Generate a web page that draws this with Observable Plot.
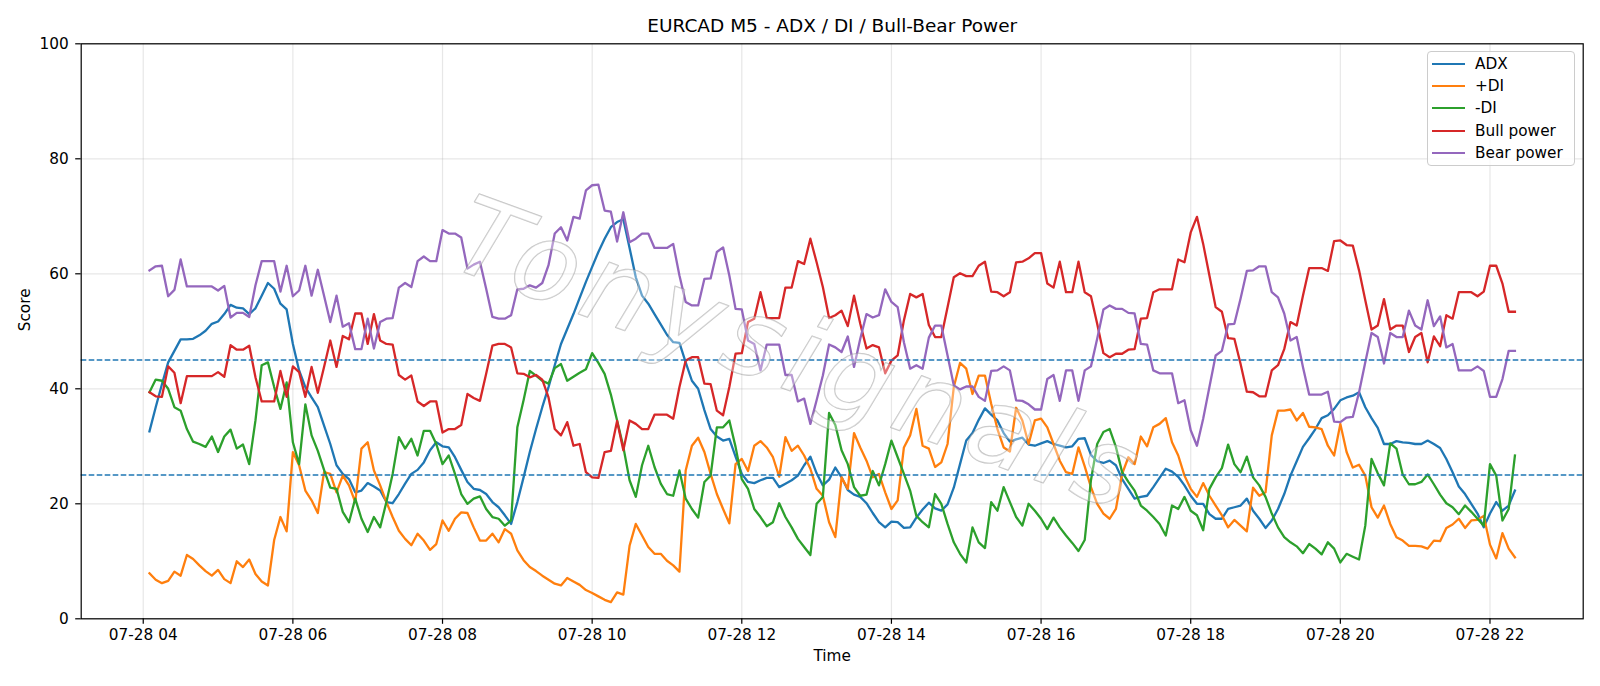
<!DOCTYPE html>
<html>
<head>
<meta charset="utf-8">
<script src="https://cdn.jsdelivr.net/npm/d3@7"></script>
<script src="https://cdn.jsdelivr.net/npm/@observablehq/plot@0.6"></script>
<style>
  html, body { margin: 0; padding: 0; background: #fff; }
  #chart { position: relative; width: 1600px; height: 686px; font-family: "DejaVu Sans", sans-serif; }
  #chart svg g.watermark text { letter-spacing: 9px; }
  .legend { position: absolute; left: 1427px; top: 51px; width: 148px; height: 115px; box-sizing: border-box;
            border: 1px solid #cccccc; border-radius: 4px; background: rgba(255,255,255,0.8); padding-top: 1px; }
  .legend .row { height: 22.2px; display: flex; align-items: center; font-size: 15.3px; color: #000; white-space: nowrap; }
  .legend .sw { width: 33px; height: 0; border-top: 2.3px solid; margin-left: 4px; margin-right: 10px; }
</style>
</head>
<body>
<div id="chart"></div>
<script>
// EURCAD M5 indicator readings, one value per 5-minute bar from 07-28 04:05 to 22:20
const startTime = Date.UTC(2025, 6, 28, 4, 5);
const stepMinutes = 5;

const seriesNames = ["ADX", "+DI", "-DI", "Bull power", "Bear power"];
const seriesColors = ["#1f77b4", "#ff7f0e", "#2ca02c", "#d62728", "#9467bd"];
const thresholdLevels = [25, 45];
const yTickValues = [0, 20, 40, 60, 80, 100];

const adx = [
  32.6, 36.8, 40.8, 44.6, 46.6, 48.6, 48.6, 48.7, 49.3, 50.1, 51.3, 51.7, 53.0, 54.6, 54.1, 54.0, 53.0, 54.0, 56.2, 58.4,
  57.4, 54.8, 53.8, 47.8, 43.2, 40.3, 38.5, 36.8, 33.6, 30.4, 26.7, 25.2, 24.3, 22.0, 22.3, 23.6, 23.0, 22.3,
  20.3, 20.1, 21.7, 23.5, 25.2, 25.9, 27.2, 29.3, 30.7, 30.0, 29.8, 28.1, 25.9, 23.8, 22.6, 22.4, 21.7, 20.3, 19.4, 18.0,
  16.5, 20.3, 24.6, 29.0, 33.0, 36.8, 40.3, 44.1, 47.8, 50.4, 53.0, 55.8, 58.6, 61.2, 63.8, 66.1, 68.1, 69.0,
  69.5, 64.5, 59.4, 56.2, 54.8, 53.0, 51.2, 49.4, 48.1, 48.0, 44.6, 41.4, 40.0, 36.3, 33.0, 31.7, 31.0, 31.3, 28.2, 25.2,
  23.8, 23.6, 24.1, 24.5, 24.5, 22.9, 23.5, 24.1, 24.9, 26.7, 28.2, 25.3, 23.2, 24.2, 26.3, 24.6, 22.4, 21.6, 21.2,
  20.1, 18.4, 16.8, 15.9, 16.9, 16.8, 15.8, 15.9, 17.6, 19.0, 20.2, 19.2, 18.8, 19.9, 22.8, 26.9, 31.0, 32.3, 34.6, 36.6,
  35.5, 34.5, 32.3, 30.8, 31.2, 31.5, 30.3, 30.1, 30.5, 30.9, 30.4, 30.1, 29.8, 30.0, 31.3, 31.4, 28.5, 27.4,
  27.1, 27.5, 26.7, 24.3, 22.6, 20.9, 21.2, 21.4, 22.9, 24.5, 26.1, 25.6, 24.7, 23.2, 21.4, 20.0, 20.0, 18.2, 17.4, 17.4,
  19.1, 19.4, 19.7, 20.9, 18.8, 17.4, 15.8, 17.1, 19.1, 21.7, 24.9, 27.4, 29.9, 31.4, 33.0, 34.9, 35.4, 36.5,
  38.0, 38.5, 38.8, 39.4, 36.8, 34.9, 33.2, 30.4, 30.4, 30.9, 30.7, 30.6, 30.4, 30.4, 31.0, 30.4, 29.7, 27.8, 25.5, 23.0,
  21.7, 20.0, 18.3, 15.9, 18.3, 20.3, 18.8, 19.7, 22.3
];

const plusDI = [
  7.9, 6.8, 6.2, 6.6, 8.2, 7.5, 11.1, 10.4, 9.3, 8.3, 7.5, 8.5, 6.9, 6.2, 10.0, 9.0, 10.3, 7.8, 6.5, 5.8,
  13.7, 17.7, 15.2, 29.0, 26.7, 22.3, 20.6, 18.4, 25.5, 25.2, 22.0, 24.9, 23.2, 20.3, 29.6, 30.7, 25.8, 23.2,
  20.3, 17.7, 15.3, 13.9, 12.8, 14.8, 13.6, 12.0, 13.0, 17.1, 15.3, 17.4, 18.5, 18.4, 15.9, 13.6, 13.6, 14.8, 13.3, 15.6,
  14.8, 11.9, 10.2, 9.0, 8.3, 7.5, 6.8, 6.1, 5.8, 7.1, 6.5, 5.9, 5.0, 4.5, 3.9, 3.3, 2.9, 4.6,
  4.2, 12.7, 16.5, 14.5, 12.5, 11.3, 11.3, 10.1, 9.3, 8.2, 25.8, 30.1, 31.5, 29.0, 25.2, 21.7, 19.1, 16.6, 26.9, 27.8,
  25.7, 30.1, 30.9, 29.8, 28.1, 24.7, 31.6, 29.2, 30.1, 28.4, 26.1, 22.6, 21.4, 16.8, 14.2, 24.6, 22.6, 32.3, 29.8,
  27.5, 24.6, 25.2, 22.0, 19.1, 20.6, 29.8, 31.9, 36.5, 30.1, 29.6, 26.4, 27.2, 30.4, 40.3, 44.5, 43.5, 39.1, 42.3, 42.3,
  37.4, 33.0, 29.8, 29.1, 36.7, 34.5, 30.4, 34.5, 34.8, 33.3, 30.4, 27.5, 25.5, 25.2, 29.8, 26.5, 22.9, 20.0,
  18.3, 17.4, 19.1, 25.2, 28.1, 26.9, 31.7, 30.0, 33.3, 33.9, 34.9, 30.7, 28.4, 24.9, 22.6, 21.2, 23.6, 21.4, 19.7, 18.0,
  15.9, 17.2, 16.2, 15.2, 22.8, 21.4, 22.0, 31.9, 36.2, 36.2, 36.4, 34.5, 35.8, 33.4, 33.3, 33.0, 30.1, 28.4,
  33.9, 29.0, 26.3, 26.8, 24.9, 19.4, 17.6, 19.7, 16.5, 14.2, 13.6, 12.7, 12.7, 12.6, 12.2, 13.6, 13.5, 15.8, 16.4, 17.4,
  15.8, 17.1, 17.2, 17.9, 12.9, 10.5, 14.9, 12.2, 10.7
];

const minusDI = [
  39.4, 41.6, 41.4, 40.0, 36.8, 36.2, 33.0, 30.8, 30.4, 29.9, 31.7, 29.0, 31.7, 32.9, 29.6, 30.3, 26.9, 34.5, 44.1, 44.6,
  40.3, 36.5, 41.1, 30.7, 26.9, 37.3, 31.9, 29.2, 25.9, 22.8, 22.6, 18.6, 16.8, 20.9, 17.4, 15.1, 17.7, 15.9,
  20.3, 25.2, 31.6, 29.6, 31.3, 28.4, 32.7, 32.7, 30.4, 26.9, 28.4, 25.2, 21.7, 20.0, 20.9, 21.3, 19.1, 17.7, 17.4, 16.2,
  17.1, 33.3, 38.0, 43.1, 42.3, 41.4, 40.9, 43.6, 44.3, 41.4, 42.1, 42.8, 43.4, 46.2, 44.5, 42.6, 39.0, 34.5,
  29.9, 24.1, 21.2, 26.7, 30.1, 26.4, 23.5, 21.7, 21.4, 25.8, 20.9, 19.1, 17.6, 23.8, 24.9, 33.3, 33.3, 34.5, 29.9, 24.3,
  22.6, 19.1, 17.7, 16.1, 16.8, 20.1, 17.7, 15.9, 13.9, 12.5, 11.1, 20.0, 21.2, 35.8, 33.7, 29.3, 26.9, 22.9, 21.4,
  21.6, 25.7, 23.2, 26.9, 31.0, 28.1, 25.2, 22.3, 17.9, 16.8, 15.9, 21.7, 20.0, 16.5, 13.3, 11.3, 9.8, 15.9, 13.3, 12.3,
  20.3, 18.8, 22.9, 20.3, 17.7, 16.2, 20.0, 18.8, 17.4, 15.6, 17.6, 15.9, 14.5, 13.2, 11.8, 13.7, 24.1, 30.4,
  32.5, 33.0, 29.9, 25.5, 23.8, 22.3, 19.7, 18.8, 17.7, 16.5, 14.5, 19.7, 19.1, 21.2, 18.8, 18.0, 15.4, 22.6, 24.6, 26.2,
  30.3, 26.9, 25.5, 28.2, 24.6, 23.2, 21.2, 18.3, 15.9, 14.2, 13.3, 12.6, 11.4, 13.0, 12.2, 11.2, 13.3, 12.2,
  9.8, 11.3, 10.8, 10.3, 16.2, 27.8, 25.3, 23.2, 30.5, 29.6, 25.1, 23.4, 23.4, 23.8, 25.1, 23.4, 21.6, 20.1, 19.4, 18.2,
  19.7, 18.6, 17.4, 16.2, 26.9, 24.9, 17.1, 19.1, 28.4
];

const bullPower = [
  39.4, 38.7, 38.6, 43.9, 42.8, 37.5, 42.2, 42.2, 42.2, 42.2, 42.2, 42.9, 42.1, 47.6, 46.8, 46.8, 47.5, 42.0, 37.8, 37.8,
  37.8, 43.1, 38.6, 43.9, 42.9, 38.6, 43.8, 39.3, 43.8, 48.4, 43.8, 49.2, 48.6, 53.1, 53.1, 47.8, 53.0, 48.4,
  47.8, 47.7, 42.4, 41.6, 42.3, 37.8, 37.0, 37.8, 37.8, 32.4, 33.0, 33.0, 33.7, 39.1, 38.4, 37.9, 42.6, 47.5, 47.8, 47.8,
  47.2, 42.7, 42.6, 42.0, 42.4, 41.6, 38.5, 33.0, 31.9, 34.2, 30.1, 30.4, 25.5, 24.6, 24.5, 29.0, 29.2, 34.4,
  29.3, 34.5, 33.9, 33.0, 33.0, 35.5, 35.5, 35.5, 34.8, 40.3, 44.9, 45.5, 45.5, 40.9, 40.8, 36.2, 35.4, 40.3, 46.1, 46.2,
  51.6, 52.2, 56.8, 52.3, 52.3, 52.3, 57.6, 57.6, 62.2, 61.7, 66.1, 62.0, 57.7, 52.3, 52.8, 53.6, 50.9, 56.2, 51.3,
  47.0, 47.6, 47.2, 42.7, 44.9, 45.8, 51.9, 56.5, 55.9, 56.5, 51.1, 49.0, 49.0, 54.2, 59.4, 60.1, 59.6, 59.6, 61.4, 62.1,
  56.9, 56.8, 56.1, 56.8, 62.0, 62.1, 62.7, 63.6, 63.6, 58.3, 57.6, 62.1, 56.8, 56.8, 62.1, 56.8, 56.1, 51.3,
  46.2, 45.5, 46.1, 46.1, 46.8, 46.9, 52.2, 52.3, 56.8, 57.3, 57.3, 57.3, 62.5, 62.0, 67.2, 69.9, 65.2, 59.7, 54.2, 53.4,
  48.8, 48.7, 44.3, 39.5, 39.4, 38.7, 38.7, 43.2, 44.1, 46.9, 51.6, 51.0, 56.2, 61.0, 61.0, 61.0, 60.5, 65.7,
  65.8, 65.0, 64.9, 60.6, 55.4, 50.3, 51.0, 55.6, 50.3, 51.0, 51.0, 46.4, 49.0, 49.7, 44.6, 49.1, 47.4, 52.8, 52.2, 56.8,
  56.8, 56.8, 56.1, 56.9, 61.4, 61.4, 58.3, 53.4, 53.4
];

const bearPower = [
  60.6, 61.3, 61.4, 56.1, 57.2, 62.5, 57.8, 57.8, 57.8, 57.8, 57.8, 57.1, 57.9, 52.4, 53.2, 53.2, 52.5, 58.0, 62.2, 62.2,
  62.2, 56.9, 61.4, 56.1, 57.1, 61.4, 56.2, 60.7, 56.2, 51.6, 56.2, 50.8, 51.4, 46.9, 46.9, 52.2, 47.0, 51.6,
  52.2, 52.3, 57.6, 58.4, 57.7, 62.2, 63.0, 62.2, 62.2, 67.6, 67.0, 67.0, 66.3, 60.9, 61.6, 62.1, 57.4, 52.5, 52.2, 52.2,
  52.8, 57.3, 57.4, 58.0, 57.6, 58.4, 61.5, 67.0, 68.1, 65.8, 69.9, 69.6, 74.5, 75.4, 75.5, 71.0, 70.8, 65.6,
  70.7, 65.5, 66.1, 67.0, 67.0, 64.5, 64.5, 64.5, 65.2, 59.7, 55.1, 54.5, 54.5, 59.1, 59.2, 63.8, 64.6, 59.7, 53.9, 53.8,
  48.4, 47.8, 43.2, 47.7, 47.7, 47.7, 42.4, 42.4, 37.8, 38.3, 33.9, 38.0, 42.3, 47.7, 47.2, 46.4, 49.1, 43.8, 48.7,
  53.0, 52.4, 52.8, 57.3, 55.1, 54.2, 48.1, 43.5, 44.1, 43.5, 48.9, 51.0, 51.0, 45.8, 40.6, 39.9, 40.4, 40.4, 38.6, 37.9,
  43.1, 43.2, 43.9, 43.2, 38.0, 37.9, 37.3, 36.4, 36.4, 41.7, 42.4, 37.9, 43.2, 43.2, 37.9, 43.2, 43.9, 48.7,
  53.8, 54.5, 53.9, 53.9, 53.2, 53.1, 47.8, 47.7, 43.2, 42.7, 42.7, 42.7, 37.5, 38.0, 32.8, 30.1, 34.8, 40.3, 45.8, 46.6,
  51.2, 51.3, 55.7, 60.5, 60.6, 61.3, 61.3, 56.8, 55.9, 53.1, 48.4, 49.0, 43.8, 39.0, 39.0, 39.0, 39.5, 34.3,
  34.2, 35.0, 35.1, 39.4, 44.6, 49.7, 49.0, 44.4, 49.7, 49.0, 49.0, 53.6, 51.0, 50.3, 55.4, 50.9, 52.6, 47.2, 47.8, 43.2,
  43.2, 43.2, 43.9, 43.1, 38.6, 38.6, 41.7, 46.6, 46.6
];

const seriesValues = [adx, plusDI, minusDI, bullPower, bearPower];

// bar timestamps
const times = adx.map((_, i) => new Date(startTime + i * stepMinutes * 60000));

// x extent padded by 5% on each side of the data range
const t0 = times[0], t1 = times[times.length - 1];
const pad = (t1 - t0) * 0.05;
const xDomain = [new Date(+t0 - pad), new Date(+t1 + pad)];
const xTicks = d3.utcHour.every(2).range(xDomain[0], xDomain[1]);

const lineMarks = seriesNames.map((name, k) =>
  Plot.line(times.map((t, i) => ({time: t, value: seriesValues[k][i]})), {
    x: "time", y: "value", stroke: seriesColors[k], strokeWidth: 2.3,
    strokeLinejoin: "round", strokeLinecap: "square"
  })
);

const chart = Plot.plot({
  width: 1600,
  height: 686,
  marginLeft: 80.7,
  marginRight: 17.3,
  marginTop: 43.3,
  marginBottom: 67.7,
  style: {fontFamily: "DejaVu Sans, sans-serif", fontSize: "15.3px", color: "#000", background: "#fff", overflow: "visible"},
  x: {type: "utc", domain: xDomain},
  y: {domain: [0, 100]},
  marks: [
    Plot.gridX(xTicks, {stroke: "#b0b0b0", strokeOpacity: 0.3, strokeWidth: 1.2}),
    Plot.gridY(yTickValues, {stroke: "#b0b0b0", strokeOpacity: 0.3, strokeWidth: 1.2}),
    ...lineMarks,
    Plot.ruleY(thresholdLevels, {stroke: "#1f77b4", strokeWidth: 1.5, strokeDasharray: "5.6,2.4"}),
    Plot.text(["Tonysignals"], {
      className: "watermark",
      frameAnchor: "middle", lineAnchor: "middle", dx: -33, dy: 26, rotate: 20,
      fontSize: 108, fontStyle: "italic", fontFamily: "DejaVu Sans, sans-serif",
      fill: "white", fillOpacity: 0.35, stroke: "#8c8c8c", strokeOpacity: 0.5, strokeWidth: 1.3
    }),
    Plot.frame({stroke: "#000", strokeWidth: 1.2}),
    Plot.axisX(xTicks, {
      tickFormat: d3.utcFormat("%m-%d %H"), tickSize: 5.5, tickPadding: 5,
      strokeWidth: 1.2, label: null, fontSize: 15.3
    }),
    Plot.axisY(yTickValues, {tickSize: 5.5, tickPadding: 7, strokeWidth: 1.2, label: null, fontSize: 15.3}),
    Plot.text(["EURCAD M5 - ADX / DI / Bull-Bear Power"], {frameAnchor: "top", lineAnchor: "middle", dy: -17.8, fontSize: 18.5, fill: "#000"}),
    Plot.text(["Time"], {frameAnchor: "bottom", lineAnchor: "middle", dy: 37.7, fontSize: 15.3, fill: "#000"}),
    Plot.text(["Score"], {frameAnchor: "left", lineAnchor: "middle", dx: -56, rotate: -90, fontSize: 15.3, fill: "#000"})
  ]
});

const root = document.getElementById("chart");
root.appendChild(chart);

// legend box in the upper right corner of the axes
const legend = document.createElement("div");
legend.className = "legend";
seriesNames.forEach((name, k) => {
  const row = document.createElement("div");
  row.className = "row";
  const sw = document.createElement("span");
  sw.className = "sw";
  sw.style.borderTopColor = seriesColors[k];
  const label = document.createElement("span");
  label.textContent = name;
  row.appendChild(sw);
  row.appendChild(label);
  legend.appendChild(row);
});
root.appendChild(legend);
</script>
</body>
</html>
